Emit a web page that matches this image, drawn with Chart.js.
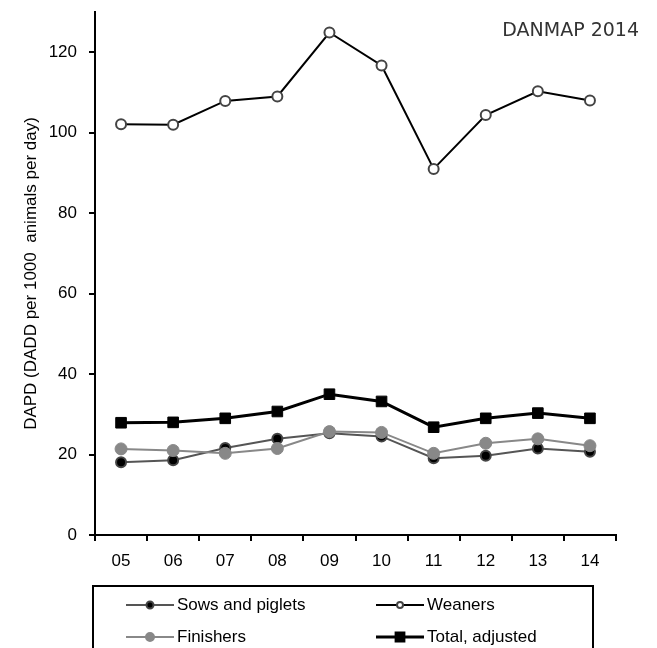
<!DOCTYPE html>
<html>
<head>
<meta charset="utf-8">
<script src="https://cdn.jsdelivr.net/npm/chart.js@4.4.1/dist/chart.umd.min.js"></script>
<style>
  body { margin: 0; background: #fff; }
  #wrap { width: 657px; height: 648px; }
</style>
</head>
<body>
<div id="wrap"><canvas id="myChart" width="657" height="648"></canvas></div>
<script>
const years = ['05', '06', '07', '08', '09', '10', '11', '12', '13', '14'];
const sowsPiglets = [18.1, 18.6, 21.6, 23.9, 25.3, 24.5, 19.1, 19.7, 21.5, 20.7];
const weaners = [102.1, 102.0, 107.9, 109.0, 124.9, 116.7, 91.0, 104.4, 110.3, 108.0];
const finishers = [21.4, 21.0, 20.3, 21.5, 25.7, 25.5, 20.3, 22.8, 23.9, 22.2];
const totalAdjusted = [27.9, 28.0, 29.0, 30.7, 35.0, 33.2, 26.8, 29.0, 30.3, 29.0];
const yTicks = [0, 20, 40, 60, 80, 100, 120];

const FONT = "'Liberation Sans', Arial, sans-serif";

// legend drawn in a bordered box under the x axis, two columns
const legendBox = {
    id: 'legendBox',
    afterDraw(chart) {
        const c = chart.ctx;
        const ds = chart.data.datasets;
        c.save();
        c.strokeStyle = '#000';
        c.lineWidth = 2;
        c.strokeRect(93, 586, 500, 80);

        const slots = [
            { i: 0, x: 126, y: 605 },
            { i: 1, x: 376, y: 605 },
            { i: 2, x: 126, y: 637 },
            { i: 3, x: 376, y: 637 }
        ];
        slots.forEach(s => {
            const d = ds[s.i];
            c.strokeStyle = d.borderColor;
            c.lineWidth = d.borderWidth;
            c.beginPath();
            c.moveTo(s.x, s.y);
            c.lineTo(s.x + 48, s.y);
            c.stroke();
            c.fillStyle = d.pointBackgroundColor;
            c.strokeStyle = d.pointBorderColor;
            Chart.helpers.drawPoint(c, {
                pointStyle: d.pointStyle,
                radius: d.legendRadius,
                borderWidth: d.pointBorderWidth,
                rotation: 0
            }, s.x + 24, s.y);
            c.fillStyle = '#000';
            c.font = '17px ' + FONT;
            c.textBaseline = 'middle';
            c.textAlign = 'left';
            c.fillText(d.label, s.x + 51, s.y);
        });

        c.fillStyle = '#333';
        c.font = "19px 'DejaVu Sans', sans-serif";
        c.textAlign = 'right';
        c.textBaseline = 'middle';
        c.fillText('DANMAP 2014', 639, 31);
        c.restore();
    }
};

const ctx = document.getElementById('myChart').getContext('2d');
const myChart = new Chart(ctx, {
    type: 'line',
    data: {
        labels: years,
        datasets: [
            {
                label: 'Sows and piglets',
                data: sowsPiglets,
                borderColor: '#555',
                borderWidth: 2,
                pointStyle: 'circle',
                pointRadius: 5,
                legendRadius: 3.5,
                pointBackgroundColor: '#000',
                pointBorderColor: '#444',
                pointBorderWidth: 2,
                order: 2
            },
            {
                label: 'Weaners',
                data: weaners,
                borderColor: '#000',
                borderWidth: 2,
                pointStyle: 'circle',
                pointRadius: 5,
                legendRadius: 3,
                pointBackgroundColor: '#fff',
                pointBorderColor: '#444',
                pointBorderWidth: 2,
                order: 3
            },
            {
                label: 'Finishers',
                data: finishers,
                borderColor: '#888',
                borderWidth: 2,
                pointStyle: 'circle',
                pointRadius: 6,
                legendRadius: 4,
                pointBackgroundColor: '#888',
                pointBorderColor: '#888',
                pointBorderWidth: 1,
                order: 1
            },
            {
                label: 'Total, adjusted',
                data: totalAdjusted,
                borderColor: '#000',
                borderWidth: 3,
                pointStyle: 'rect',
                pointRadius: 7.5,
                legendRadius: 5.5,
                pointBackgroundColor: '#000',
                pointBorderColor: '#000',
                pointBorderWidth: 1,
                order: 0
            }
        ]
    },
    options: {
        responsive: false,
        animation: false,
        layout: { padding: { left: 0, right: 41, top: 12, bottom: 0 } },
        plugins: {
            legend: { display: false },
            tooltip: { enabled: false }
        },
        scales: {
            x: {
                offset: true,
                afterFit: (scale) => {
                    scale.height = 113;
                    scale.paddingLeft = 0;
                    scale.paddingRight = 0;
                },
                grid: {
                    offset: true,
                    drawOnChartArea: false,
                    drawTicks: true,
                    tickLength: 6,
                    color: '#000',
                    lineWidth: 2
                },
                border: { color: '#000', width: 2 },
                ticks: {
                    color: '#000',
                    padding: 10,
                    maxRotation: 0,
                    font: { family: FONT, size: 17 }
                }
            },
            y: {
                min: 0,
                max: 130,
                afterFit: (scale) => {
                    scale.width = 95;
                    scale.paddingTop = 0;
                    scale.paddingBottom = 0;
                },
                afterBuildTicks: (scale) => { scale.ticks = yTicks.map(v => ({ value: v })); },
                grid: {
                    drawOnChartArea: false,
                    drawTicks: true,
                    tickLength: 6,
                    color: '#000',
                    lineWidth: 2
                },
                border: { color: '#000', width: 2 },
                ticks: {
                    color: '#000',
                    padding: 12,
                    font: { family: FONT, size: 17 }
                },
                title: {
                    display: true,
                    text: 'DAPD (DADD per 1000  animals per day)',
                    color: '#000',
                    padding: { top: 21, bottom: 4 },
                    font: { family: FONT, size: 17 }
                }
            }
        }
    },
    plugins: [legendBox]
});
</script>
</body>
</html>
